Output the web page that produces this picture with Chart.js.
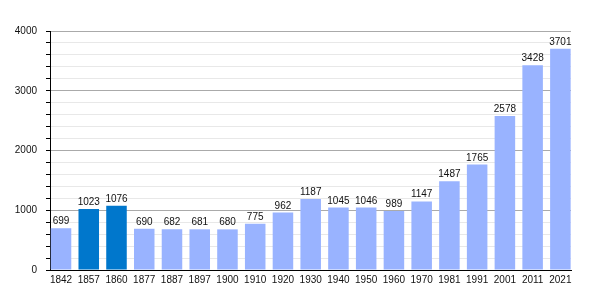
<!DOCTYPE html>
<html>
<head>
<meta charset="utf-8">
<script src="https://cdn.jsdelivr.net/npm/chart.js@4/dist/chart.umd.min.js"></script>
<style>html,body{margin:0;padding:0;background:#fff;}canvas{display:block;}</style>
</head>
<body>
<canvas id="c" width="600" height="300"></canvas>
<script>
const years = ['1842','1857','1860','1877','1887','1897','1900','1910','1920','1930','1940','1950','1960','1970','1981','1991','2001','2011','2021'];
const population = [699,1023,1076,690,682,681,680,775,962,1187,1045,1046,989,1147,1487,1765,2578,3428,3701];
const highlighted = ['1857','1860'];
const yTicks = [0,1000,2000,3000,4000];

const LIGHT = 'rgb(153,179,255)';
const DARK = 'rgb(0,119,204)';
const FONT = '"Liberation Sans", Arial, sans-serif';

const valueLabels = {
  id: 'valueLabels',
  afterDatasetsDraw(chart) {
    const ctx = chart.ctx;
    const meta = chart.getDatasetMeta(0);
    ctx.save();
    ctx.font = '10px ' + FONT;
    ctx.fillStyle = '#111';
    ctx.textAlign = 'center';
    ctx.textBaseline = 'alphabetic';
    meta.data.forEach((bar, i) => {
      ctx.fillText(String(population[i]), bar.x, bar.y - 4);
    });
    ctx.restore();
  }
};

new Chart(document.getElementById('c'), {
  type: 'bar',
  data: {
    datasets: [{
      data: population.map((v, i) => ({x: i, y: v})),
      backgroundColor: years.map(y => highlighted.includes(y) ? DARK : LIGHT),
      borderWidth: 0,
      barPercentage: 0.74,
      categoryPercentage: 1
    }]
  },
  options: {
    responsive: false,
    animation: false,
    devicePixelRatio: 1,
    layout: {padding: {left: 0, right: 29, top: 31, bottom: 3}},
    plugins: {legend: {display: false}, tooltip: {enabled: false}},
    scales: {
      x: {
        type: 'linear',
        offset: false,
        min: -0.397,
        max: 18.383,
        afterFit: s => { s.height = 27; },
        grid: {display: false, drawTicks: false},
        border: {color: '#000', width: 1},
        ticks: {
          stepSize: 1,
          includeBounds: false,
          autoSkip: false,
          maxRotation: 0,
          padding: 4,
          color: '#111',
          font: {family: FONT, size: 10},
          callback: v => Number.isInteger(v) ? years[v] : ''
        }
      },
      y: {
        min: 0,
        max: 4000,
        afterFit: s => { s.width = 50; },
        grid: {
          color: c => (c.tick && c.tick.value % 1000 === 0) ? 'rgb(170,170,170)' : 'rgb(232,232,232)',
          tickColor: '#000',
          tickLength: 4,
          drawTicks: true
        },
        border: {color: '#000', width: 1},
        ticks: {
          stepSize: 200,
          autoSkip: false,
          padding: 9,
          color: '#111',
          font: {family: FONT, size: 10},
          callback: v => yTicks.includes(v) ? String(v) : ''
        }
      }
    }
  },
  plugins: [valueLabels]
});
</script>
</body>
</html>
